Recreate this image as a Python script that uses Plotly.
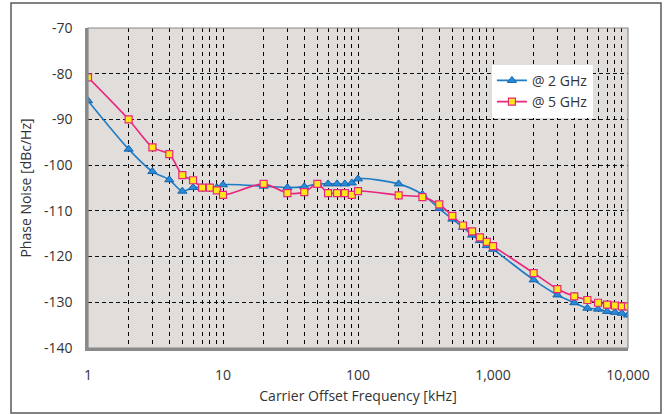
import plotly.graph_objects as go

freq_khz = [1, 2, 3, 4, 5, 6, 7, 8, 9, 10, 20, 30, 40, 50, 60, 70, 80, 90, 100,
            200, 300, 400, 500, 600, 700, 800, 900, 1000,
            2000, 3000, 4000, 5000, 6000, 7000, 8000, 9000, 10000]

pn_2ghz = [-85.9, -96.5, -101.4, -103.2, -105.7, -104.9, -104.9, -104.9, -104.9, -104.3,
           -104.6, -104.9, -104.7, -104.1, -104.1, -104.1, -104.1, -103.9, -103.0,
           -104.1, -106.4, -109.5, -111.8, -113.6, -115.3, -116.5, -117.6, -118.4,
           -125.1, -128.4, -130.1, -131.3, -131.5, -132.0, -132.2, -132.4, -132.8]

pn_5ghz = [-80.8, -90.0, -96.1, -97.6, -102.2, -103.3, -104.9, -104.9, -105.5, -106.5,
           -104.1, -106.1, -105.9, -104.1, -106.1, -106.1, -106.1, -106.5, -105.7,
           -106.6, -107.0, -108.6, -111.1, -113.2, -114.5, -115.8, -116.8, -117.7,
           -123.6, -127.1, -128.7, -129.5, -130.1, -130.5, -130.7, -130.9, -130.9]

series_names = ["@ 2 GHz", "@ 5 GHz"]

x_grid_vals = [m * 10 ** d for d in range(4) for m in range(1, 10)] + [10000]
x_tick_text = {1: "1", 10: "10", 100: "100", 1000: "1,000", 10000: "10,000"}
y_tick_vals = [-140, -130, -120, -110, -100, -90, -80, -70]
y_tick_text = ["-140", "-130", "-120", "-110", "-100", "-90", "-80", "-70"]

FONT = "Open Sans"
TXT = "#333333"
FS = 14

fig = go.Figure()
fig.add_trace(go.Scatter(
    x=freq_khz, y=pn_2ghz, name=series_names[0], mode="lines+markers",
    line=dict(color="#1c7cc6", width=1.6, shape="spline", smoothing=0.8),
    marker=dict(symbol="triangle-up", size=8, color="#2a8ad6",
                line=dict(color="#1565b0", width=1)),
))
fig.add_trace(go.Scatter(
    x=freq_khz, y=pn_5ghz, name=series_names[1], mode="lines+markers",
    line=dict(color="#e8267c", width=1.6, shape="spline", smoothing=0.8),
    marker=dict(symbol="square", size=7, color="#ffe81a",
                line=dict(color="#e8267c", width=1.2)),
))

fig.update_layout(
    width=665, height=414,
    margin=dict(l=88, r=37, t=28, b=66),
    paper_bgcolor="white",
    plot_bgcolor="#e1dddb",
    font=dict(family=FONT, size=FS, color=TXT),
    showlegend=True,
    legend=dict(x=0.748, y=0.885, xanchor="left", yanchor="top",
                bgcolor="white", borderwidth=0,
                font=dict(family=FONT, size=FS, color=TXT),
                itemwidth=30, tracegroupgap=0),
    xaxis=dict(
        type="log", range=[0, 4], automargin=False,
        tickmode="array", tickvals=x_grid_vals,
        ticktext=[x_tick_text.get(v, "") for v in x_grid_vals],
        showgrid=True, gridcolor="#000000", gridwidth=1, griddash="4px,4px",
        showline=True, linecolor="#8a8a8a", linewidth=2.5,
        ticks="", zeroline=False, ticklabelstandoff=12,
        tickfont=dict(family=FONT, size=FS, color=TXT),
        title=dict(text="Carrier Offset Frequency [kHz]", standoff=9,
                   font=dict(family=FONT, size=FS, color=TXT)),
    ),
    yaxis=dict(
        range=[-140, -70], automargin=False,
        tickmode="array", tickvals=y_tick_vals, ticktext=y_tick_text,
        showgrid=True, gridcolor="#111111", gridwidth=1, griddash="4px,3px",
        showline=True, linecolor="#8a8a8a", linewidth=2.5,
        ticks="", zeroline=False, ticklabelstandoff=10,
        tickfont=dict(family=FONT, size=FS, color=TXT),
        title=dict(text="Phase Noise [dBc/Hz]", standoff=10,
                   font=dict(family=FONT, size=FS, color=TXT)),
    ),
    shapes=[
        dict(type="rect", xref="paper", yref="paper", x0=0, x1=1, y0=0, y1=1,
             line=dict(color="#8a8a8a", width=1.2), layer="above"),
        dict(type="rect", xref="paper", yref="paper",
             x0=(11 - 88) / 540, x1=(661 - 88) / 540,
             y0=(348 - 413) / 320, y1=(348 - 3) / 320,
             line=dict(color="#5a5a5a", width=1.5), layer="below"),
    ],
)

fig.write_html("out.html",
               config={"displayModeBar": False},
               post_script="document.body.style.margin='0';document.body.style.overflow='hidden';")
